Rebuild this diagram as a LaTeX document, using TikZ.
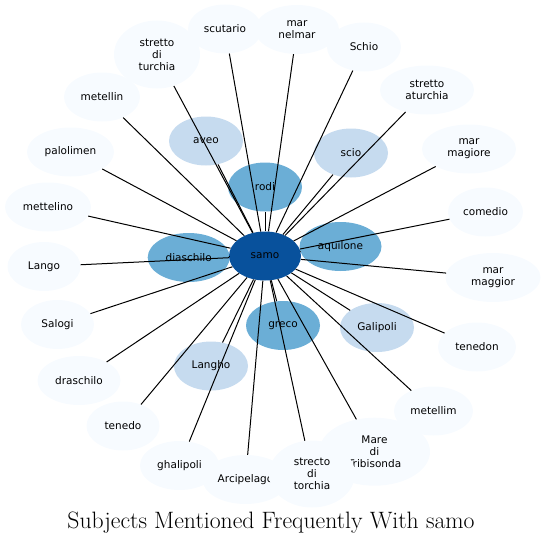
\documentclass[tikz,border=0pt]{standalone}
\usepackage{fontspec}
\usepackage{xcolor}
\usepackage{tikz}
\usetikzlibrary{shapes.geometric}
\newfontfamily\labelfont{DejaVu Sans}
\definecolor{bluepale}{HTML}{F7FBFF}
\definecolor{bluelight}{HTML}{C6DBEF}
\definecolor{bluemid}{HTML}{6BAED6}
\definecolor{bluedark}{HTML}{08519C}

\begin{document}
\begin{tikzpicture}[x=1pt,y=-1pt,
    topic/.style={ellipse,inner sep=0pt,align=center,minimum height=49pt,
      font=\labelfont\fontsize{10.5}{12}\selectfont},
    outer/.style={topic,fill=bluepale},
    near/.style={topic,fill=bluelight},
    close/.style={topic,fill=bluemid},
    hub/.style={topic,fill=bluedark},
    edge/.style={line width=1pt,black}]
        \useasboundingbox (0,0) rectangle (543,543);
        % outer ring
        \node[outer,minimum width=86pt,minimum height=68pt] (sturchia) at (157,54.5) {stretto\\di\\turchia};
        \node[outer,minimum width=74pt] (scutario) at (225,29) {scutario};
        \node[outer,minimum width=84pt] (nelmar) at (297,29.5) {mar\\nelmar};
        \node[outer,minimum width=74pt] (schio) at (364,47) {Schio};
        \node[outer,minimum width=94pt] (saturchia) at (427,90) {stretto\\aturchia};
        \node[outer,minimum width=76pt] (metellin) at (102,97) {metellin};
        \node[outer,minimum width=87pt] (palolimen) at (70.5,152) {palolimen};
        \node[outer,minimum width=94pt] (magiore) at (469,149) {mar\\magiore};
        \node[outer,minimum width=86pt] (mettelino) at (48,207) {mettelino};
        \node[outer,minimum width=75pt] (comedio) at (485.5,212) {comedio};
        \node[outer,minimum width=73pt] (lango) at (44,266.5) {Lango};
        \node[outer,minimum width=95pt] (maggior) at (493,277.5) {mar\\maggior};
        \node[outer,minimum width=73pt] (salogi) at (57.5,324.5) {Salogi};
        \node[outer,minimum width=78pt] (tenedon) at (477,347) {tenedon};
        \node[outer,minimum width=83pt] (draschilo) at (79,380.5) {draschilo};
        \node[outer,minimum width=73pt] (tenedo) at (123,426) {tenedo};
        \node[outer,minimum width=79pt] (metellim) at (433.5,411) {metellim};
        \node[outer,minimum width=79pt] (ghalipoli) at (179.5,465.5) {ghalipoli};
        \node[outer,minimum width=86pt] (arcipelago) at (245.5,479.5) {Arcipelago};
        \node[outer,minimum width=111pt,minimum height=68pt] (tribisonda) at (374.5,451.7) {Mare\\di\\Tribisonda};
        \node[outer,minimum width=86pt,minimum height=67pt] (storchia) at (312,474) {strecto\\di\\torchia};
        % inner ring
        \node[near,minimum width=74pt] (aveo) at (206,141) {aveo};
        \node[near,minimum width=74pt] (scio) at (351,153) {scio};
        \node[near,minimum width=74pt] (galipoli) at (377,327.5) {Galipoli};
        \node[near,minimum width=74pt] (langho) at (211,366) {Langho};
        \node[close,minimum width=74pt] (rodi) at (265,187) {rodi};
        \node[close,minimum width=82pt] (diaschilo) at (188.7,257.5) {diaschilo};
        \node[close,minimum width=82pt] (aquilone) at (340.5,246.5) {aquilone};
        \node[close,minimum width=74pt] (greco) at (283,325.5) {greco};
        \node[hub,minimum width=72pt] (samo) at (265,256) {samo};
        % edges on top
        \foreach \n in {sturchia,scutario,nelmar,schio,saturchia,metellin,palolimen,magiore,
            mettelino,comedio,lango,maggior,salogi,tenedon,draschilo,tenedo,metellim,
            ghalipoli,arcipelago,tribisonda,storchia,aveo,scio,galipoli,langho,rodi,
            diaschilo,aquilone,greco}
            {\draw[edge] (samo) -- (\n);}
        \node[anchor=base,inner sep=0pt,font=\fontsize{23.7}{26}\selectfont] (title) at (271,528) {Subjects Mentioned Frequently With samo};
    \end{tikzpicture}
\end{document}
